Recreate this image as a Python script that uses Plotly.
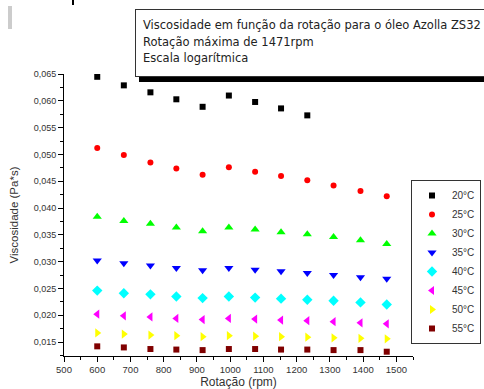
import plotly.graph_objects as go

rotacao = [600, 680, 760, 838, 917, 996, 1075, 1153, 1232, 1311, 1392, 1471]

temperaturas = ["20°C", "25°C", "30°C", "35°C", "40°C", "45°C", "50°C", "55°C"]

visc_20 = [0.0645, 0.0629, 0.0616, 0.0603, 0.0589, 0.0610, 0.0598, 0.0586, 0.0573]
visc_25 = [0.0512, 0.0499, 0.0485, 0.0474, 0.0462, 0.0476, 0.0468, 0.0460, 0.0452, 0.0442, 0.0432, 0.0422]
visc_30 = [0.0384, 0.0376, 0.0371, 0.0364, 0.0357, 0.0364, 0.0360, 0.0355, 0.0351, 0.0346, 0.0340, 0.0333]
visc_35 = [0.0302, 0.0297, 0.0293, 0.0288, 0.0284, 0.0288, 0.0285, 0.0282, 0.0279, 0.0275, 0.0271, 0.0268]
visc_40 = [0.0246, 0.0241, 0.0239, 0.0235, 0.0232, 0.0235, 0.0233, 0.0231, 0.0229, 0.0227, 0.0224, 0.0220]
visc_45 = [0.0202, 0.0199, 0.0197, 0.0194, 0.0192, 0.0194, 0.0193, 0.0191, 0.0190, 0.0188, 0.0186, 0.0184]
visc_50 = [0.0167, 0.0165, 0.0163, 0.0162, 0.0160, 0.0162, 0.0161, 0.0160, 0.0159, 0.0158, 0.0157, 0.0156]
visc_55 = [0.0142, 0.0140, 0.0137, 0.0136, 0.0135, 0.0137, 0.0137, 0.0136, 0.0136, 0.0135, 0.0135, 0.0132]

series = [visc_20, visc_25, visc_30, visc_35, visc_40, visc_45, visc_50, visc_55]
symbols = ["square", "circle", "triangle-up", "triangle-down", "diamond",
           "triangle-left", "triangle-right", "square"]
colors = ["#000000", "#ff0000", "#00ff00", "#0000ff", "#00ffff",
          "#ff00ff", "#ffff00", "#800000"]
sizes = [6, 6, 8, 8, 8, 8, 8, 6]

titulo = ["Viscosidade em função da rotação para o óleo Azolla ZS32",
          "Rotação máxima de 1471rpm",
          "Escala logarítmica"]

fig = go.Figure()
for name, vals, sym, col, sz in zip(temperaturas, series, symbols, colors, sizes):
    fig.add_trace(go.Scatter(
        x=rotacao[:len(vals)], y=vals, mode="markers", name=name,
        marker=dict(symbol=sym, color=col, size=sz, line=dict(width=0)),
    ))

FONT = "Liberation Sans, Arial, sans-serif"
PH = 282.0  # plot height in px
PW = 349.0  # plot width in px

def px_x(x):
    return (x - 64) / PW

def px_y(y):
    return (356 - y) / PH

fig.update_layout(
    width=484, height=389,
    margin=dict(l=64, r=71, t=74, b=33, autoexpand=False),
    paper_bgcolor="white", plot_bgcolor="white",
    separators=",.",
    font=dict(family=FONT, color="#333333", size=10),
    showlegend=True,
    legend=dict(
        x=px_x(411), xanchor="left", y=px_y(180), yanchor="top",
        bordercolor="#333333", borderwidth=1, bgcolor="white",
        font=dict(size=10, family=FONT, color="#333333"),
        itemwidth=30, tracegroupgap=0,
    ),
    xaxis=dict(
        range=[500, 1550], dtick=100, tick0=500, tickformat="d",
        showline=True, linecolor="black", linewidth=1,
        ticks="outside", ticklen=5, tickcolor="black",
        showgrid=False, zeroline=False,
        tickfont=dict(size=9.5, family=FONT, color="#333333"),
        minor=dict(ticks="outside", ticklen=3, dtick=50, tickcolor="black", showgrid=False),
        title=dict(text="Rotação (rpm)", font=dict(size=12, family=FONT, color="#333333"), standoff=14),
    ),
    yaxis=dict(
        range=[0.0124, 0.06502], dtick=0.005, tick0=0, tickformat=".3f",
        showline=True, linecolor="black", linewidth=1,
        ticks="outside", ticklen=5, tickcolor="black",
        showgrid=False, zeroline=False,
        tickfont=dict(size=9, family=FONT, color="#333333"),
        minor=dict(ticks="outside", ticklen=3, dtick=0.0025, tickcolor="black", showgrid=False),
        title=dict(text="Viscosidade (Pa*s)", font=dict(size=11.5, family=FONT, color="#333333"), standoff=12),
    ),
)

# title box with drop shadow
common = dict(
    xref="paper", yref="paper", x=px_x(135), y=px_y(9.5),
    xanchor="left", yanchor="top", text="",
    width=372, height=62, borderpad=2, borderwidth=1, showarrow=False,
)
fig.add_annotation(bgcolor="black", bordercolor="black",
                   xshift=4, yshift=-5, **common)
fig.add_annotation(bgcolor="white", bordercolor="#333333", **common)
for line, yc in zip(titulo, [25, 42, 58]):
    fig.add_annotation(
        xref="paper", yref="paper", x=px_x(141), y=px_y(yc),
        xanchor="left", yanchor="middle", text=line, showarrow=False,
        font=dict(size=11.5, family="DejaVu Sans, sans-serif", color="#222222"),
    )

# clipped fragments at the top edge
fig.add_shape(type="rect", xref="paper", yref="paper",
              x0=px_x(8), x1=px_x(12), y0=px_y(29), y1=px_y(6),
              fillcolor="#cccccc", line=dict(width=0))
fig.add_shape(type="line", xref="paper", yref="paper",
              x0=px_x(73), x1=px_x(73), y0=px_y(5), y1=px_y(-2),
              line=dict(color="black", width=2))

fig.write_html(
    "out.html",
    config={"displayModeBar": False},
    post_script="document.body.style.margin='0';document.body.style.overflow='hidden';",
)
